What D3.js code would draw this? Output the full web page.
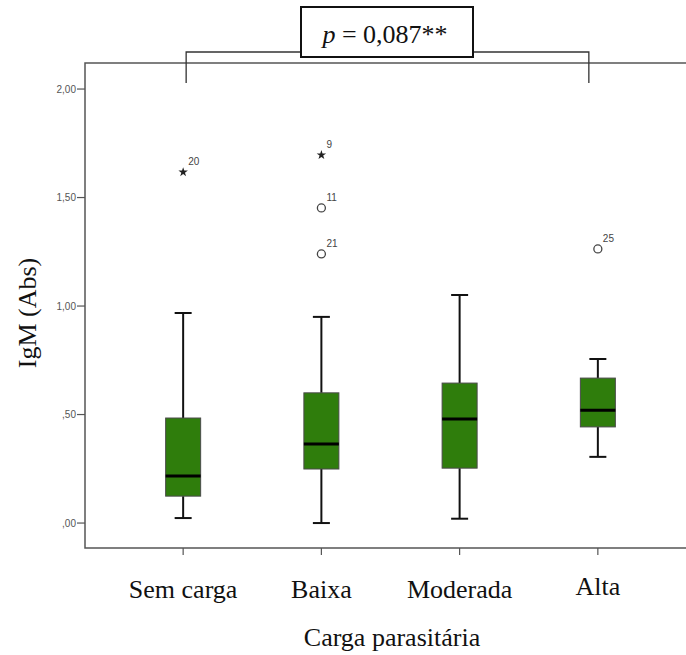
<!DOCTYPE html>
<head>
  <meta charset="utf-8">
  <style>
    body { margin: 0; background: #fff; }
    .frame { fill: none; stroke: #555; stroke-width: 1.5px; }
    .box { fill: #2f7d0c; stroke: #4a4a4a; stroke-width: 1px; }
    .whisker { stroke: #111; stroke-width: 2px; }
    .median { stroke: #000; stroke-width: 3px; }
    .ytick text { font-family: Arial, 'Liberation Sans', sans-serif; font-size: 10px; fill: #555; }
    .serif { font-family: 'Liberation Serif', 'Times New Roman', serif; fill: #111; }
    .olabel { font-family: Arial, 'Liberation Sans', sans-serif; font-size: 10px; fill: #444; }
  </style>
</head>
<body>
<svg id="chart" width="686" height="655"></svg>
<script src="https://cdn.jsdelivr.net/npm/d3@7"></script>
<script>
  var categories = ["Sem carga", "Baixa", "Moderada", "Alta"];
  var whiskerLow = [0.023, 0.0, 0.02, 0.305];
  var q1 = [0.124, 0.249, 0.253, 0.443];
  var median = [0.217, 0.364, 0.48, 0.52];
  var q3 = [0.484, 0.60, 0.645, 0.668];
  var whiskerHigh = [0.968, 0.95, 1.051, 0.756];
  // outliers: category index, value, case label, kind
  var outCat = [0, 1, 1, 1, 3];
  var outVal = [1.617, 1.696, 1.452, 1.24, 1.263];
  var outLabel = ["20", "9", "11", "21", "25"];
  var outKind = ["star", "star", "circle", "circle", "circle"];
  var yTicks = [0, 0.5, 1, 1.5, 2];
  var yTickLabels = [",00", ",50", "1,00", "1,50", "2,00"];
  var pText = "0,087**";

  var svg = d3.select("#chart");
  var pLeft = 85, pRight = 696, pTop = 63, pBottom = 548;

  var x = d3.scalePoint().domain(categories).range([pLeft, pRight]).padding(0.71);
  var y = d3.scaleLinear().domain([-0.115, 2.12]).range([pBottom, pTop]);

  // frame
  svg.append("rect").attr("class", "frame")
    .attr("x", pLeft).attr("y", pTop)
    .attr("width", pRight - pLeft).attr("height", pBottom - pTop);

  // y axis ticks
  var yt = svg.append("g").attr("class", "ytick");
  yTicks.forEach(function(v, i) {
    yt.append("line").attr("x1", pLeft - 8).attr("x2", pLeft)
      .attr("y1", y(v)).attr("y2", y(v)).attr("stroke", "#555").attr("stroke-width", 1.2);
    yt.append("text").attr("x", pLeft - 9).attr("y", y(v)).attr("dy", "0.35em")
      .attr("text-anchor", "end").text(yTickLabels[i]);
  });

  // x ticks and labels
  categories.forEach(function(c) {
    svg.append("line").attr("x1", x(c)).attr("x2", x(c))
      .attr("y1", pBottom).attr("y2", pBottom + 7).attr("stroke", "#555").attr("stroke-width", 1.2);
    svg.append("text").attr("class", "serif")
      .attr("x", x(c)).attr("y", c === "Alta" ? 595 : 598)
      .attr("text-anchor", "middle").attr("font-size", 26).text(c);
  });

  // axis titles
  svg.append("text").attr("class", "serif")
    .attr("transform", "translate(36,313) rotate(-90)")
    .attr("text-anchor", "middle").attr("font-size", 26).text("IgM (Abs)");
  svg.append("text").attr("class", "serif")
    .attr("x", 392).attr("y", 646).attr("text-anchor", "middle")
    .attr("font-size", 26).text("Carga parasitária");

  // boxes
  var boxW = 35, capW = 17;
  categories.forEach(function(c, i) {
    var cx = x(c);
    var g = svg.append("g");
    g.append("line").attr("class", "whisker")
      .attr("x1", cx).attr("x2", cx).attr("y1", y(whiskerHigh[i])).attr("y2", y(q3[i]));
    g.append("line").attr("class", "whisker")
      .attr("x1", cx).attr("x2", cx).attr("y1", y(q1[i])).attr("y2", y(whiskerLow[i]));
    g.append("line").attr("class", "whisker")
      .attr("x1", cx - capW / 2).attr("x2", cx + capW / 2)
      .attr("y1", y(whiskerHigh[i])).attr("y2", y(whiskerHigh[i]));
    g.append("line").attr("class", "whisker")
      .attr("x1", cx - capW / 2).attr("x2", cx + capW / 2)
      .attr("y1", y(whiskerLow[i])).attr("y2", y(whiskerLow[i]));
    g.append("rect").attr("class", "box")
      .attr("x", cx - boxW / 2).attr("y", y(q3[i]))
      .attr("width", boxW).attr("height", y(q1[i]) - y(q3[i]));
    g.append("line").attr("class", "median")
      .attr("x1", cx - boxW / 2).attr("x2", cx + boxW / 2)
      .attr("y1", y(median[i])).attr("y2", y(median[i]));
  });

  // outliers
  var star = d3.symbol().type(d3.symbolStar).size(28);
  outVal.forEach(function(v, i) {
    var cx = x(categories[outCat[i]]), cy = y(v);
    if (outKind[i] === "star") {
      svg.append("path").attr("d", star).attr("transform", "translate(" + cx + "," + cy + ")")
        .attr("fill", "#222");
    } else {
      svg.append("circle").attr("cx", cx).attr("cy", cy).attr("r", 4)
        .attr("fill", "none").attr("stroke", "#444").attr("stroke-width", 1.3);
    }
    svg.append("text").attr("class", "olabel")
      .attr("x", cx + 5).attr("y", cy - 7).text(outLabel[i]);
  });

  // significance bracket
  var bx1 = x(categories[0]) + 3, bx2 = x(categories[3]) - 9;
  svg.append("path")
    .attr("d", "M" + bx1 + ",83V52H" + bx2 + "V83")
    .attr("fill", "none").attr("stroke", "#333").attr("stroke-width", 1.3);
  svg.append("rect").attr("x", 301).attr("y", 7).attr("width", 172).attr("height", 50)
    .attr("fill", "#fff").attr("stroke", "#111").attr("stroke-width", 2);
  var pt = svg.append("text").attr("class", "serif")
    .attr("x", 385).attr("y", 43).attr("text-anchor", "middle").attr("font-size", 26);
  pt.append("tspan").attr("font-style", "italic").text("p");
  pt.append("tspan").text(" = " + pText);
</script>
</body>
